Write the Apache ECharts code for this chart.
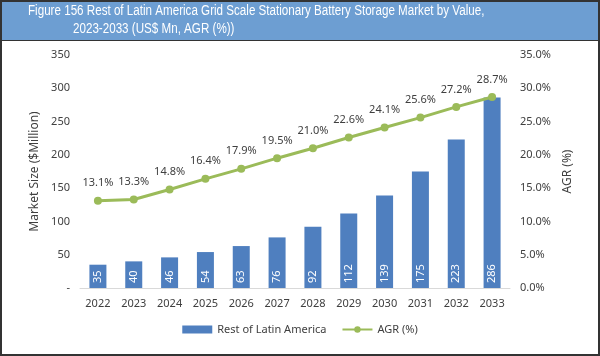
<!DOCTYPE html>
<html><head><meta charset="utf-8">
<script src="https://cdn.jsdelivr.net/npm/echarts@6/dist/echarts.min.js"></script>
<style>html,body{margin:0;padding:0;background:#fff}#c{width:600px;height:356px}</style>
</head><body><div id="c"></div>
<script>
const years = ['2022','2023','2024','2025','2026','2027','2028','2029','2030','2031','2032','2033'];
const marketValues = [35,40,46,54,63,76,92,112,139,175,223,286];
const agrValues = [13.1,13.3,14.8,16.4,17.9,19.5,21.0,22.6,24.1,25.6,27.2,28.7];
const titleLine1 = 'Figure 156 Rest of Latin America Grid Scale Stationary Battery Storage Market by Value,';
const titleLine2 = '2023-2033 (US$ Mn, AGR (%))';

const chart = echarts.init(document.getElementById('c'));
const font = 'Noto Sans';
const txt = '#404040';
chart.setOption({
  animation: false,
  graphic: [
    {type:'rect', shape:{x:0,y:0,width:600,height:40}, style:{fill:'#6d9ed2'}, z:0},
    {type:'line', shape:{x1:0,y1:40.5,x2:600,y2:40.5}, style:{stroke:'#333',lineWidth:1}, z:1},
    {type:'rect', shape:{x:1,y:1,width:598,height:354}, style:{fill:'none',stroke:'#333',lineWidth:2}, z:10},
    {type:'text', x:28, y:4, scaleX:0.83, style:{text:titleLine1, fill:'#fff', font:'14px "Liberation Sans", Arial, sans-serif'}, z:5},
    {type:'text', x:73, y:22, scaleX:0.83, style:{text:titleLine2, fill:'#fff', font:'14px "Liberation Sans", Arial, sans-serif'}, z:5}
  ],
  grid: {left:80, right:90, top:55, bottom:68},
  legend: {
    bottom: 16, left: 'center', itemGap: 15,
    textStyle:{color:txt, fontFamily:font, fontSize:11},
    data: [
      {name:'Rest of Latin America', icon:'rect', itemWidth:26, itemHeight:6},
      {name:'AGR (%)'}
    ],
    itemWidth: 30, itemHeight: 8
  },
  xAxis: {
    type:'category', data: years,
    axisLine:{lineStyle:{color:'#d9d9d9'}}, axisTick:{show:false},
    axisLabel:{color:txt, fontFamily:font, fontSize:11, margin:10}
  },
  yAxis: [
    {type:'value', min:0, max:350, interval:50,
     name:'Market Size ($Million)', nameLocation:'middle', nameGap:36,
     nameTextStyle:{color:txt, fontFamily:font, fontSize:12},
     axisLabel:{color:txt, fontFamily:font, fontSize:11, margin:10, formatter:v=> v===0?'-':v},
     splitLine:{show:false}, axisLine:{show:false}, axisTick:{show:false}},
    {type:'value', min:0, max:35, interval:5,
     name:'AGR (%)', nameLocation:'middle', nameGap:50,
     nameTextStyle:{color:txt, fontFamily:font, fontSize:12},
     axisLabel:{color:txt, fontFamily:font, fontSize:11, margin:10, formatter:v=> v.toFixed(1)+'%'},
     splitLine:{show:false}, axisLine:{show:false}, axisTick:{show:false}}
  ],
  series: [
    {name:'Rest of Latin America', type:'bar', data: marketValues, barWidth:17,
     itemStyle:{color:'#4f7fbf'},
     label:{show:true, position:'insideBottom', rotate:90, align:'left', verticalAlign:'middle', distance:5,
            color:'#fff', fontFamily:font, fontSize:11}},
    {name:'AGR (%)', type:'line', yAxisIndex:1, data: agrValues,
     symbol:'circle', symbolSize:8,
     lineStyle:{color:'#9bbb59', width:3}, itemStyle:{color:'#9bbb59'},
     label:{show:true, position:'top', distance:8, color:txt, fontFamily:font, fontSize:11,
            formatter:p=>p.value.toFixed(1)+'%'}}
  ]
});
</script></body></html>
